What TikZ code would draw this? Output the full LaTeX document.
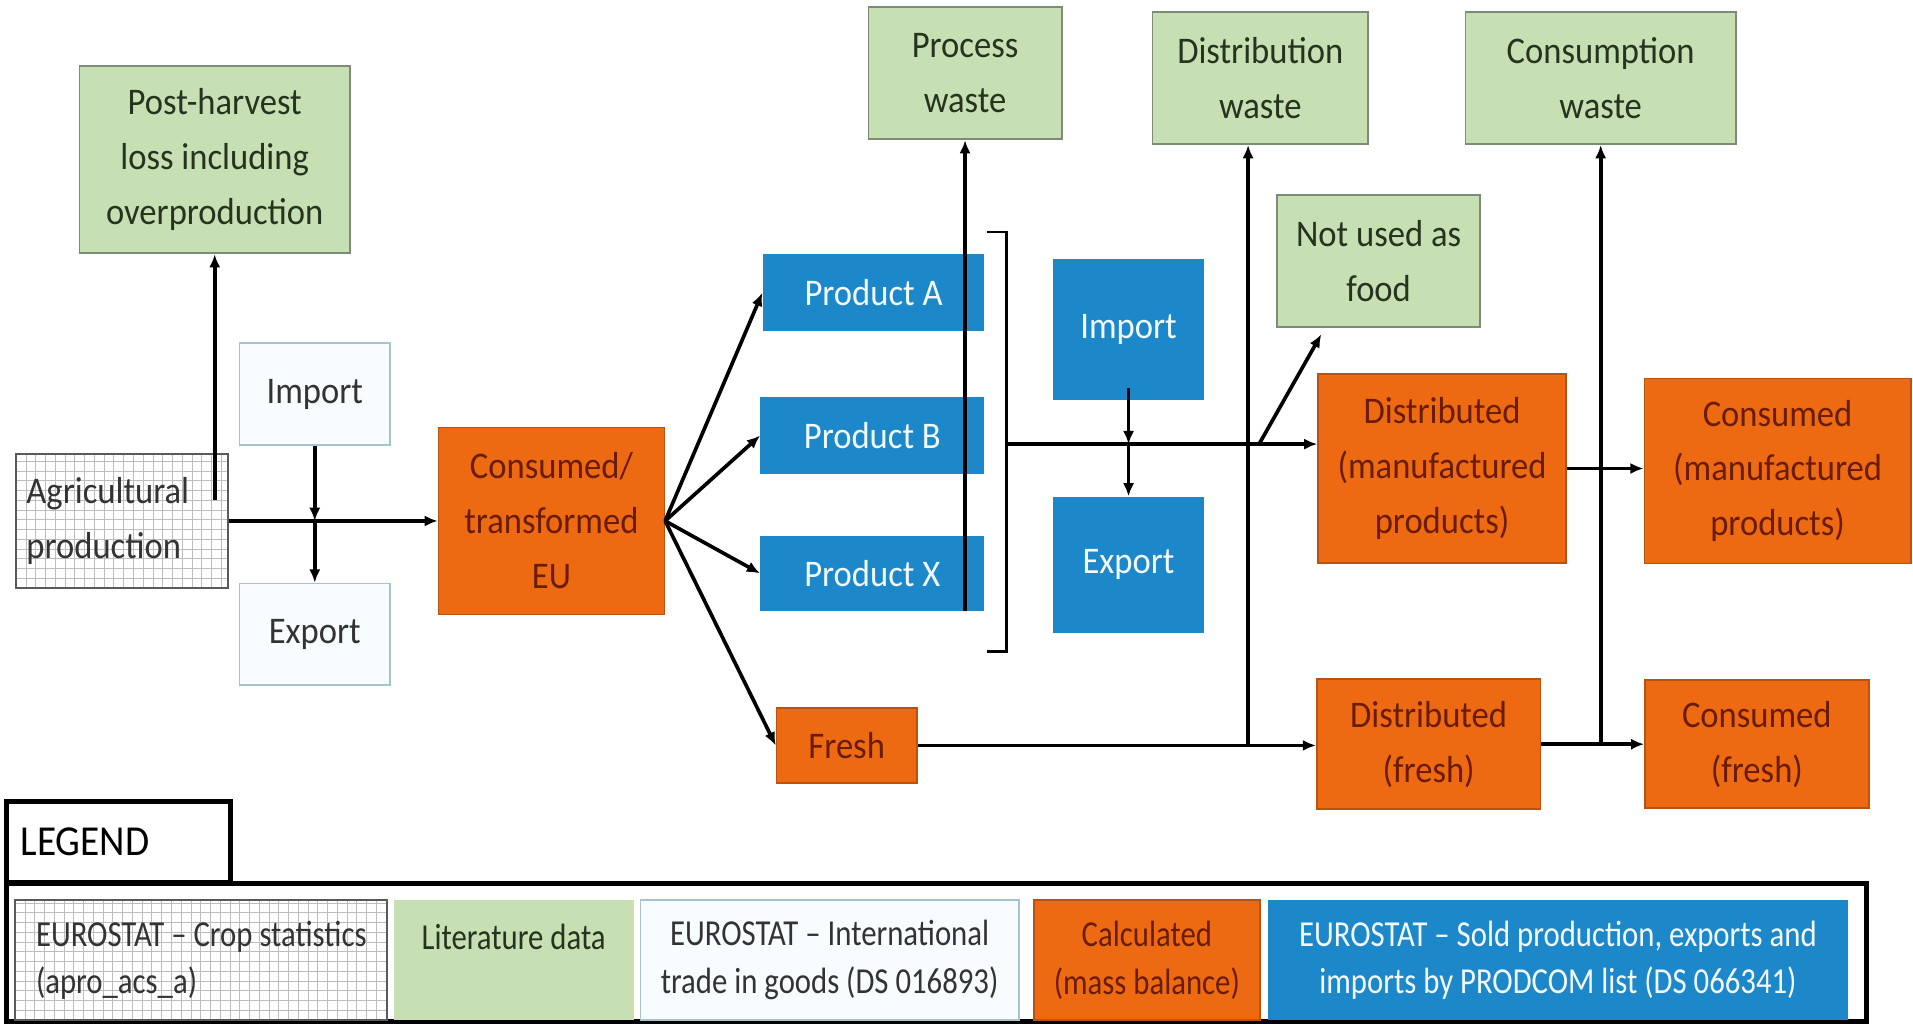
\documentclass[tikz,border=0pt]{standalone}
\usepackage{fontspec}
\setmainfont{Carlito}[FakeStretch=0.92]
\newfontfamily\legfont{Carlito}[FakeStretch=0.84]
\usetikzlibrary{calc,arrows.meta}
\definecolor{greenfill}{HTML}{C6E0B4}
\definecolor{greenline}{HTML}{7C8C76}
\definecolor{greentext}{HTML}{26331F}
\definecolor{calcfill}{HTML}{EE6A12}
\definecolor{calcline}{HTML}{B9530F}
\definecolor{calctext}{HTML}{6A1C00}
\definecolor{prodfill}{HTML}{1C87C9}
\definecolor{prodtext}{HTML}{F2FAFF}
\definecolor{tradefill}{HTML}{F7FCFE}
\definecolor{tradeline}{HTML}{A9C3CE}
\definecolor{tradetext}{HTML}{333333}
\definecolor{cropline}{HTML}{5A5A5A}
\definecolor{cropgrid}{HTML}{BDBDBD}
\tikzset{
  box/.style={align=center, inner sep=2pt, font=\fontsize{18.5}{27}\selectfont},
  greenbox/.style={box, fill=greenfill, draw=greenline, line width=0.9pt, text=greentext},
  calcbox/.style={box, fill=calcfill, draw=calcline, line width=0.8pt, text=calctext},
  prodbox/.style={box, fill=prodfill, text=prodtext},
  tradebox/.style={box, fill=tradefill, draw=tradeline, line width=0.9pt, text=tradetext},
  gridln/.style={draw=cropgrid, line width=0.4pt},
  cropbox/.style={box, fill=white, draw=cropline, line width=0.9pt, text=tradetext,
    path picture={
      \foreach \k in {0,...,60} {
        \draw[gridln] ($(path picture bounding box.south west)+(\k*4.8pt,0)$) -- ++(0,200pt);
        \draw[gridln] ($(path picture bounding box.south west)+(0,\k*4.8pt)$) -- ++(400pt,0);
      }}},
  legcell/.style={minimum height=59pt, font=\legfont\fontsize{18}{23.4}\selectfont},
  legframe/.style={draw=black, line width=2.4pt},
  arr/.style={draw=black, line width=1.8pt, -{Latex[length=6.5pt,width=5.5pt]}},
  link/.style={draw=black, line width=1.1pt}
}

\begin{document}
\begin{tikzpicture}[x=0.6pt, y=-0.6pt]
  \useasboundingbox (0,0) rectangle (1568,839);

  % flow boxes
  \node[greenbox, minimum width=133pt, minimum height=92pt] (postharvest) at (176,131) {Post-harvest\\loss including\\overproduction};
  \node[tradebox, minimum width=74pt, minimum height=50pt] (import) at (258,323) {Import};
  \node[tradebox, minimum width=74pt, minimum height=50pt] (export) at (258,520) {Export};
  \node[cropbox, minimum width=104pt, minimum height=66pt, text width=94pt, align=left] (agri) at (100,427) {Agricultural\\production};
  \node[calcbox, minimum width=111pt, minimum height=92pt] (eu) at (452,427) {Consumed/\\transformed\\EU};
  \node[prodbox, minimum width=109pt, minimum height=38pt] (prodA) at (716,240) {Product A};
  \node[prodbox, minimum width=110pt, minimum height=38pt] (prodB) at (715,357) {Product B};
  \node[prodbox, minimum width=110pt, minimum height=37pt] (prodX) at (715,470) {Product X};
  \node[calcbox, minimum width=69pt, minimum height=37pt] (fresh) at (694,611) {Fresh};
  \node[greenbox, minimum width=95pt, minimum height=65pt] (procwaste) at (791,60) {Process\\waste};
  \node[greenbox, minimum width=106pt, minimum height=65pt] (distwaste) at (1033,64) {Distribution\\waste};
  \node[greenbox, minimum width=133pt, minimum height=65pt] (conswaste) at (1312,64) {Consumption\\waste};
  \node[greenbox, minimum width=100pt, minimum height=65pt] (notfood) at (1130,214) {Not used as\\food};
  \node[prodbox, minimum width=74pt, minimum height=69pt] (prodimport) at (925,270) {Import};
  \node[prodbox, minimum width=74pt, minimum height=67pt] (prodexport) at (925,463) {Export};
  \node[calcbox, minimum width=122pt, minimum height=93pt] (distman) at (1182,384) {Distributed\\(manufactured\\products)};
  \node[calcbox, minimum width=131pt, minimum height=91pt] (consman) at (1457,386) {Consumed\\(manufactured\\products)};
  \node[calcbox, minimum width=110pt, minimum height=64pt] (distfresh) at (1171,610) {Distributed\\(fresh)};
  \node[calcbox, minimum width=110pt, minimum height=63pt] (consfresh) at (1440,610) {Consumed\\(fresh)};

  % connectors
  \draw[arr] (agri.east) -- (agri.east -| eu.west);
  \coordinate (phfoot) at (176,410);
  \draw[arr] (phfoot) -- (postharvest.south);
  \coordinate (tradecross) at (import.south |- agri.east);
  \draw[arr] (import.south) -- (tradecross);
  \draw[arr] (tradecross) -- (export.north);
  \foreach \p in {prodA,prodB,prodX,fresh}
    \draw[arr] (eu.east) -- (\p.west);
  \coordinate (pwfoot) at (procwaste.south |- prodX.south);
  \draw[arr] (pwfoot) -- (procwaste.south);
  \draw[link] (809,190) -- (825,190) -- (825,534) -- (809,534);
  \coordinate (brmid) at (825,364);
  \draw[arr] (brmid) -- (brmid -| distman.west);
  \coordinate (prodcross) at (prodimport.south |- brmid);
  \draw[arr] ([yshift=6pt]prodimport.south) -- (prodcross);
  \draw[arr] (prodcross) -- (prodexport.north);
  \draw[arr] (fresh.east) -- (fresh.east -| distfresh.west);
  \coordinate (dwfoot) at (1023,611);
  \draw[arr] (dwfoot) -- (dwfoot |- distwaste.south);
  \coordinate (nffoot) at (1032,364);
  \coordinate (nftip) at (1083,274);
  \draw[arr] (nffoot) -- (nftip);
  \draw[arr] (distman.east) -- (distman.east -| consman.west);
  \draw[arr] (distfresh.east) -- (distfresh.east -| consfresh.west);
  \coordinate (cwfoot) at (conswaste.south |- distfresh.east);
  \draw[arr] (cwfoot) -- (conswaste.south);

  % legend
  \node[legframe, fill=white, minimum width=110pt, minimum height=40pt, text width=96pt, align=left,
        font=\fontsize{21}{24}\selectfont] (legtitle) at (97,690) {LEGEND};
  \draw[legframe] (5,724) rectangle (1530,837);
  \node[cropbox, legcell, minimum width=183pt, align=left] (legcrop) at (165,787) {EUROSTAT – Crop statistics\\(apro\_acs\_a)};
  \node[greenbox, legcell, draw=none, minimum width=118pt] (leglit) at (421,787) {Literature data\\\mbox{}};
  \node[tradebox, legcell, minimum width=186pt] (legtrade) at (680,787) {EUROSTAT – International\\trade in goods (DS 016893)};
  \node[calcbox, legcell, minimum width=111pt] (legcalc) at (940,787) {Calculated\\(mass balance)};
  \node[prodbox, legcell, minimum width=285pt] (legprod) at (1277,787) {EUROSTAT – Sold production, exports and\\imports by PRODCOM list (DS 066341)};
\end{tikzpicture}
\end{document}
